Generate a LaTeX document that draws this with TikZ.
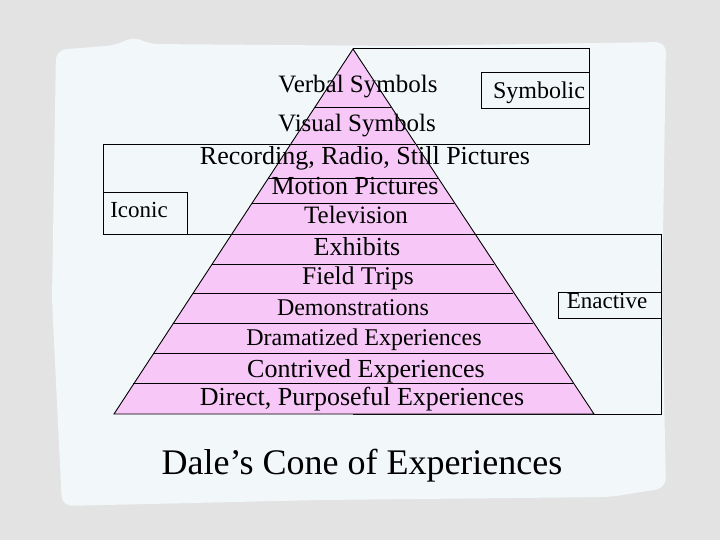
\documentclass[tikz,border=0pt]{standalone}
\usepackage{fontspec}
\setmainfont{Liberation Serif}
\definecolor{outerbg}{HTML}{E3E3E3}
\definecolor{innerbg}{HTML}{F2F7FA}
\definecolor{pinkfill}{HTML}{F7C8F7}
\tikzset{
  boxline/.style={draw=black, line width=0.9pt},
  lvl/.style={anchor=base, inner sep=0pt, font=\fontsize{26}{30}\selectfont},
  lvlsmall/.style={anchor=base, inner sep=0pt, font=\fontsize{24}{28}\selectfont},
  tag/.style={anchor=base, inner sep=0pt, font=\fontsize{23}{27}\selectfont},
}
\begin{document}
\begin{tikzpicture}[x=1pt,y=-1pt]
\useasboundingbox (0,0) rectangle (720,540);
% background
\fill[outerbg] (0,0) rectangle (720,540);
\fill[innerbg, rounded corners=10pt] (56,50) -- (118,45) -- (133,36) -- (148,44) -- (400,46) -- (666,42) -- (662,300) -- (666,488) -- (610,497) -- (320,500) -- (62,506) -- (52,300) -- cycle;
% category boxes
\draw[boxline] (353,48) rectangle (589,144);
\draw[boxline] (481,72) rectangle (589,108);
\draw[boxline] (103,144) rectangle (353,234);
\draw[boxline] (103,192) rectangle (187,234);
\draw[boxline] (353,234) rectangle (661,414);
\draw[boxline] (558,292) rectangle (661,318);
% pyramid
\filldraw[fill=pinkfill, draw=black, line width=0.9pt] (353,49) -- (594,414) -- (114,414) -- cycle;
\foreach \y in {107,144,178,203,234,264,293,323,353,383} {
  \pgfmathsetmacro\hw{(\y-49)*0.6575}
  \draw[line width=0.9pt] ({353-\hw},\y) -- ({353+\hw},\y);
}
% level texts
\node[lvl, font=\fontsize{25}{29}\selectfont] (verbal) at (358,93) {Verbal Symbols};
\node[lvl, font=\fontsize{25}{29}\selectfont] (visual) at (357,132) {Visual Symbols};
\node[lvl] (recording) at (365,165) {Recording, Radio, Still Pictures};
\node[lvl] (motion) at (355,195) {Motion Pictures};
\node[lvl, font=\fontsize{25}{29}\selectfont] (tv) at (356,224) {Television};
\node[lvl] (exhibits) at (357,255) {Exhibits};
\node[lvl, font=\fontsize{25.5}{29}\selectfont] (field) at (358,284) {Field Trips};
\node[lvlsmall] (demo) at (353,315) {Demonstrations};
\node[lvlsmall] (drama) at (364,345) {Dramatized Experiences};
\node[lvl] (contrived) at (366,377) {Contrived Experiences};
\node[lvl] (direct) at (362,405) {Direct, Purposeful Experiences};
% category labels
\node[tag, font=\fontsize{24}{28}\selectfont] (symbolic) at (539,99) {Symbolic};
\node[tag] (iconic) at (139,218) {Iconic};
\node[tag] (enactive) at (607,308) {Enactive};
% title
\node[anchor=base, inner sep=0pt, font=\fontsize{36}{42}\selectfont] (title) at (362,474) {Dale’s Cone of Experiences};
\end{tikzpicture}
\end{document}
